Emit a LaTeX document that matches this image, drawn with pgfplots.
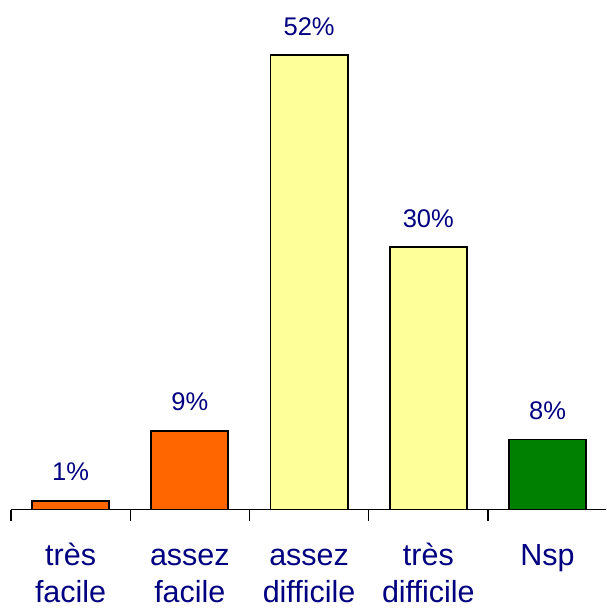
\documentclass[border=0pt]{standalone}
\usepackage{pgfplots}
\pgfplotsset{compat=1.18}
\usepackage{fontspec}
\setmainfont{Liberation Sans}
\definecolor{barorange}{HTML}{FF6600}
\definecolor{baryellow}{HTML}{FFFF99}
\definecolor{bargreen}{HTML}{008000}
\definecolor{navytext}{HTML}{000080}
\begin{document}
\begin{tikzpicture}
\useasboundingbox (-11pt,-100.5pt) rectangle (595pt,509.5pt);
\begin{axis}[
  scale only axis,
  width=595pt, height=507pt,
  xmin=-0.5, xmax=4.49,
  ymin=0, ymax=58,
  axis x line*=bottom,
  axis y line=none,
  x axis line style={line width=1.6pt, black},
  xtick={0,1,2,3,4},
  xticklabels={{\strut très\\facile},{\strut assez\\facile},{\strut assez\\difficile},{\strut très\\difficile},{\strut Nsp}},
  major tick length=0pt,
  minor xtick={-0.5,0.5,1.5,2.5,3.5,4.5},
  minor tick length=11pt,
  tick align=outside,
  minor tick style={line width=1.4pt, black},
  xticklabel style={font=\fontsize{30.5}{37}\selectfont, text=navytext, align=center, anchor=north, inner sep=0pt, yshift=-30pt},
  /pgf/number format/assume math mode=true,
  ybar,
  bar width=77pt,
  bar shift=0pt,
  nodes near coords={\pgfmathprintnumber{\pgfplotspointmeta}\%},
  nodes near coords style={font=\fontsize{25.5}{30}\selectfont, text=navytext, inner sep=0pt, text depth=0pt, yshift=19pt},
  clip=false,
]
\addplot[draw=black, line width=1.8pt, fill=barorange] coordinates {(0,1) (1,9)};
\addplot[draw=black, line width=1.8pt, fill=baryellow] coordinates {(2,52) (3,30)};
\addplot[draw=black, line width=1.8pt, fill=bargreen] coordinates {(4,8)};
\end{axis}
\end{tikzpicture}
\end{document}
